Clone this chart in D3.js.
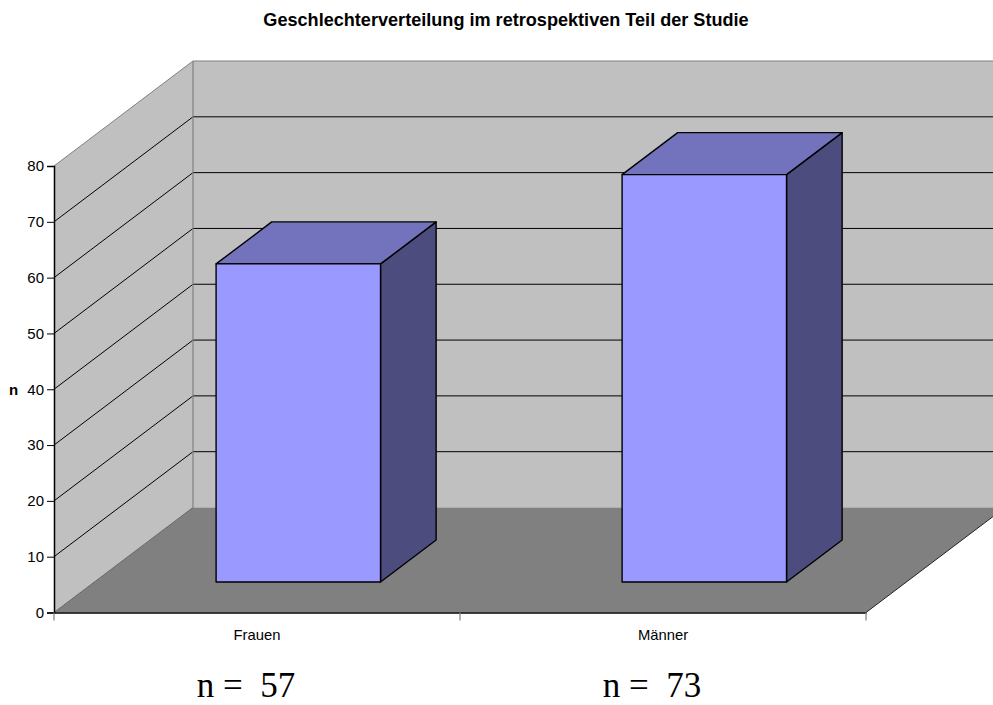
<!DOCTYPE html>
<html>
<head>
<meta charset="utf-8">
<script src="https://cdn.jsdelivr.net/npm/d3@7"></script>
<style>
  html, body { margin: 0; padding: 0; background: #fff; }
  svg { display: block; }
</style>
</head>
<body>
<svg id="chart" width="993" height="705"></svg>
<script>
// Data
const categories = ["Frauen", "Männer"];
const values = [57, 73];
const yTicks = [0, 10, 20, 30, 40, 50, 60, 70, 80];
const countLabels = ["n =  57", "n =  73"];
const title = "Geschlechterverteilung im retrospektiven Teil der Studie";
const yTitle = "n";

const FONT = "Arial, 'Liberation Sans', sans-serif";
const svg = d3.select("#chart");

// Front plane scales
const x = d3.scaleBand().domain(categories).range([54, 866]).paddingInner(0).paddingOuter(0);
const y = d3.scaleLinear().domain([0, 80]).range([612.5, 166]);

// Depth vector of the 3D box (full depth)
const DX = 139, DY = -105;
const P = (px, v, d) => [px + d * DX, y(v) + d * DY];
const poly = pts => pts.map(p => p.join(",")).join(" ");

const x0 = x.range()[0], x1 = x.range()[1];
const vMax = y.domain()[1];

// Walls and floor
svg.append("polygon")
  .attr("points", poly([P(x0, 0, 1), P(x1, 0, 1), P(x1, vMax, 1), P(x0, vMax, 1)]))
  .attr("fill", "#c0c0c0");
svg.append("polygon")
  .attr("points", poly([P(x0, 0, 0), P(x0, vMax, 0), P(x0, vMax, 1), P(x0, 0, 1)]))
  .attr("fill", "#c0c0c0");
svg.append("polygon")
  .attr("points", poly([P(x0, 0, 0), P(x1, 0, 0), P(x1, 0, 1), P(x0, 0, 1)]))
  .attr("fill", "#808080");

// Gridlines on the side and back walls
yTicks.filter(v => v > 0).forEach(v => {
  const col = v === vMax ? "#808080" : "#000";
  svg.append("polyline")
    .attr("points", poly([P(x0, v, 0), P(x0, v, 1), P(x1, v, 1)]))
    .attr("fill", "none").attr("stroke", col).attr("stroke-width", 1);
});

// Wall edges
svg.append("line")
  .attr("x1", P(x0, 0, 1)[0]).attr("y1", P(x0, 0, 1)[1])
  .attr("x2", P(x0, vMax, 1)[0]).attr("y2", P(x0, vMax, 1)[1])
  .attr("stroke", "#808080").attr("stroke-width", 1.2);
svg.append("line")
  .attr("x1", P(x0, 0, 0)[0]).attr("y1", P(x0, 0, 0)[1])
  .attr("x2", P(x0, 0, 1)[0]).attr("y2", P(x0, 0, 1)[1])
  .attr("stroke", "#666").attr("stroke-width", 1);
svg.append("line")
  .attr("x1", P(x1, 0, 0)[0]).attr("y1", P(x1, 0, 0)[1])
  .attr("x2", P(x1, 0, 1)[0]).attr("y2", P(x1, 0, 1)[1])
  .attr("stroke", "#222").attr("stroke-width", 1);

// Bars
const barW = 0.405 * x.bandwidth();
const d0 = 0.29, d1 = 0.69;
const bars = svg.append("g");
categories.forEach((c, i) => {
  const v = values[i];
  const bx0 = x(c) + (x.bandwidth() - barW) / 2 + 1;
  const bx1 = bx0 + barW;
  const g = bars.append("g").attr("stroke", "#000").attr("stroke-width", 1.4).attr("stroke-linejoin", "round");
  // side face
  g.append("polygon")
    .attr("points", poly([P(bx1, 0, d0), P(bx1, 0, d1), P(bx1, v, d1), P(bx1, v, d0)]))
    .attr("fill", "#4c4c7e");
  // top face
  g.append("polygon")
    .attr("points", poly([P(bx0, v, d0), P(bx1, v, d0), P(bx1, v, d1), P(bx0, v, d1)]))
    .attr("fill", "#7373bd");
  // front face
  g.append("polygon")
    .attr("points", poly([P(bx0, 0, d0), P(bx1, 0, d0), P(bx1, v, d0), P(bx0, v, d0)]))
    .attr("fill", "#9999ff");
});

// Value axis
const yAxis = svg.append("g").attr("transform", `translate(${x0},0)`)
  .call(d3.axisLeft(y).tickValues(yTicks).tickSize(7).tickPadding(3).tickFormat(d3.format("d")));
yAxis.select(".domain").attr("stroke", "#000").attr("stroke-width", 1.5);
yAxis.selectAll(".tick line").attr("stroke", "#000");
yAxis.selectAll("text")
  .attr("fill", "#000")
  .style("font-family", FONT)
  .style("font-size", "15px");

// Category axis
const xAxis = svg.append("g").attr("transform", `translate(0,${y(0)})`)
  .call(d3.axisBottom(x).tickValues([]).tickSizeOuter(0));
xAxis.select(".domain").attr("stroke", "#000").attr("stroke-width", 1.5);
xAxis.selectAll(".cat-tick")
  .data([x0, ...categories.slice(1).map(c => x(c)), x1])
  .join("line").attr("class", "cat-tick")
  .attr("x1", d => d).attr("x2", d => d)
  .attr("y1", 0).attr("y2", 8)
  .attr("stroke", "#808080").attr("stroke-width", 1.2);
xAxis.selectAll(".cat-label")
  .data(categories)
  .join("text").attr("class", "cat-label")
  .attr("x", d => x(d) + x.bandwidth() / 2)
  .attr("y", 27.5)
  .attr("text-anchor", "middle")
  .attr("fill", "#000")
  .style("font-family", FONT)
  .style("font-size", "14.8px")
  .text(d => d);

// Axis title
svg.append("text")
  .attr("x", 13.5).attr("y", 395)
  .attr("text-anchor", "middle")
  .attr("fill", "#000")
  .style("font-family", FONT)
  .style("font-size", "15px").style("font-weight", "bold")
  .text(yTitle);

// Chart title
svg.append("text")
  .attr("x", 506).attr("y", 26)
  .attr("text-anchor", "middle")
  .attr("fill", "#000")
  .style("font-family", FONT)
  .style("font-size", "18.1px").style("font-weight", "bold")
  .text(title);

// Group sizes below the categories
svg.selectAll(".count")
  .data(categories)
  .join("text").attr("class", "count")
  .attr("x", (d, i) => x(d) + x.bandwidth() / 2 - 11)
  .attr("y", 697)
  .attr("text-anchor", "middle")
  .attr("xml:space", "preserve")
  .style("white-space", "pre")
  .style("font-family", "'Times New Roman', 'Liberation Serif', serif")
  .style("font-size", "35px")
  .text((d, i) => countLabels[i]);
</script>
</body>
</html>
